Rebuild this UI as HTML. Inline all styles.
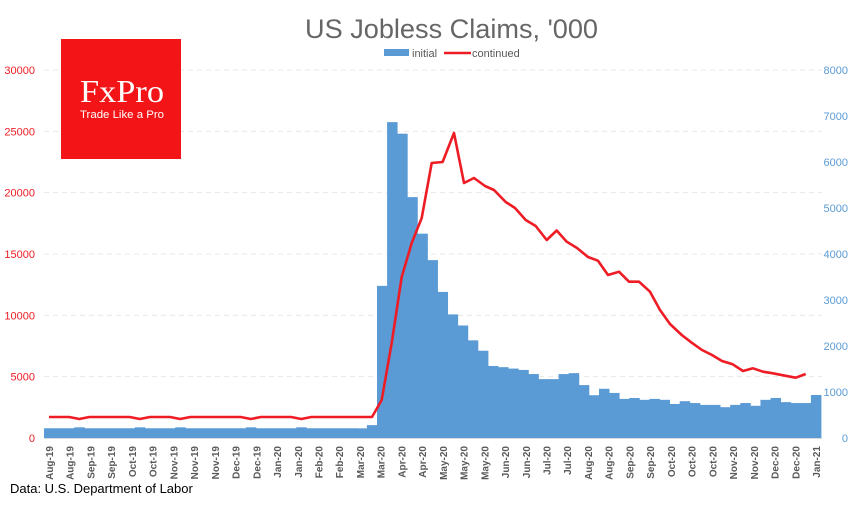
<!DOCTYPE html>
<html><head><meta charset="utf-8"><style>
body{margin:0;background:#fff;width:860px;height:500px;overflow:hidden;font-family:"Liberation Sans",sans-serif}
</style></head><body>
<svg id="s" width="860" height="500" xmlns="http://www.w3.org/2000/svg" font-family="Liberation Sans, sans-serif">
<text x="305" y="38" font-size="27" fill="#666" textLength="293" lengthAdjust="spacingAndGlyphs">US Jobless Claims, '000</text>
<rect x="384" y="49" width="25" height="7" fill="#5b9bd5"/>
<text x="412" y="57" font-size="11" fill="#595959">initial</text>
<line x1="444" y1="53" x2="471" y2="53" stroke="#ee1c25" stroke-width="2.5"/>
<text x="472" y="57" font-size="11" fill="#595959">continued</text>
<g id="grid"></g>
<g id="bars"></g>
<line x1="44" y1="438.5" x2="822" y2="438.5" stroke="#d9d9d9" stroke-width="1"/>
<polyline id="ln" fill="none" stroke="#ee1c25" stroke-width="2.6" stroke-linejoin="round"/>
<g id="xl" font-size="10" font-weight="bold" fill="#595959"></g>
<rect x="61" y="39" width="120" height="120" fill="#f21416"/>
<text x="122" y="102" text-anchor="middle" font-family="Liberation Serif, serif" font-size="32" fill="#fff" textLength="84" lengthAdjust="spacingAndGlyphs">FxPro</text>
<text x="122" y="118" text-anchor="middle" font-size="11" fill="#fff" textLength="84" lengthAdjust="spacingAndGlyphs">Trade Like a Pro</text>
<text x="10" y="493" font-size="13" fill="#000">Data: U.S. Department of Labor</text>
</svg>
<script>
var NS="http://www.w3.org/2000/svg",s=document.getElementById('s');
function el(p,t,a,txt){var e=document.createElementNS(NS,t);for(var k in a)e.setAttribute(k,a[k]);if(txt!=null)e.textContent=txt;document.getElementById(p).appendChild(e);return e;}
for(var i=0;i<=6;i++){var y=438-i*61.33;
 if(i>0)el('grid','line',{x1:44,x2:822,y1:y,y2:y,stroke:'#e8e8e8','stroke-dasharray':'5,4'});
 el('grid','text',{x:35,y:y+4,'text-anchor':'end','font-size':11,fill:'#ee1c25'},String(i*5000));}
for(var i=0;i<=8;i++){var y=438-i*46;el('grid','text',{x:848,y:y+4,'text-anchor':'end','font-size':11,fill:'#5b9bd5'},String(i*1000));}
var v=[];for(var i=0;i<31;i++)v.push([3,9,13,20,25].indexOf(i)>=0?232:212);
v=v.concat([210,280,3307,6867,6615,5237,4442,3867,3176,2687,2446,2123,1897,1566,1540,1509,1480,1390,1280,1280,1390,1410,1150,930,1070,980,850,870,830,850,830,740,800,760,720,720,670,720,760,700,830,870,780,760,760,935]);
var w=777/v.length;
for(var i=0;i<v.length;i++){var h=v[i]*0.046;el('bars','rect',{x:44+i*w,y:438-h,width:w+0.4,height:h,fill:'#5b9bd5'});}
var pts=[];for(var i=0;i<=31;i++){var y=[3,9,13,20,25].indexOf(i)>=0?419:417;pts.push((49+i*10.09)+','+y);}
pts=pts.concat(["372,417","381.7,400","391.7,343","401.7,277","411.7,243","421.7,218","431.7,163","442.6,162","454,133","464,183","474,178","485,186","494,190","505.7,202","515,208","525.7,220","535.7,226","546.7,240","556.7,230.5","566.7,241.7","577,248","588,257","598,260.7","608,275","619,271.7","629,281.7","639,281.7","650,291.7","660,310","670,324","681.7,335","691.7,342.7","702,350","712,355","722,361","732.7,364.3","743,371","753,368.3","763,371.7","773,373.3","785,375.7","795.7,377.7","805.7,374"]);
document.getElementById('ln').setAttribute('points',pts.join(' '));
var L="Aug-19 Aug-19 Sep-19 Sep-19 Oct-19 Oct-19 Nov-19 Nov-19 Nov-19 Dec-19 Dec-19 Jan-20 Jan-20 Feb-20 Feb-20 Mar-20 Mar-20 Apr-20 Apr-20 May-20 May-20 May-20 Jun-20 Jun-20 Jul-20 Jul-20 Aug-20 Aug-20 Sep-20 Sep-20 Oct-20 Oct-20 Oct-20 Nov-20 Nov-20 Dec-20 Dec-20 Jan-21".split(' ');
for(var i=0;i<L.length;i++){var x=49+i*(767/(L.length-1))+4;el('xl','text',{x:x,y:446,'text-anchor':'end',transform:'rotate(-90 '+x+' 446)'},L[i]);}
</script>
</body></html>
